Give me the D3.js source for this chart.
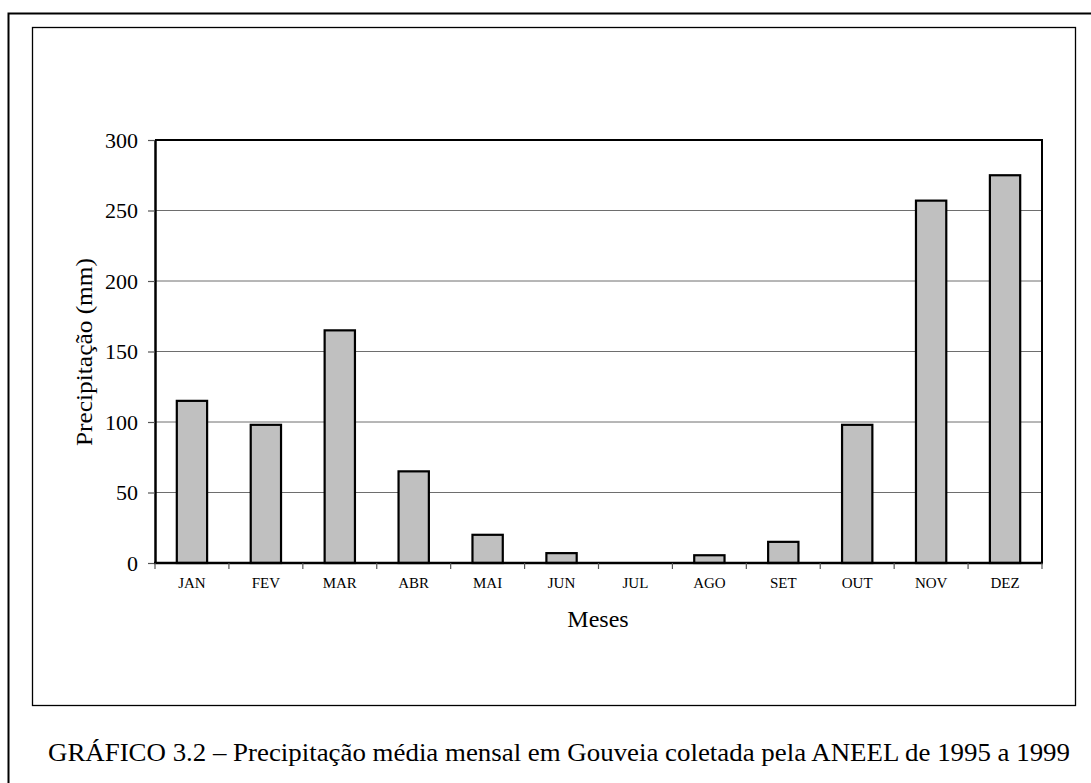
<!DOCTYPE html>
<html><head><meta charset="utf-8">
<script src="https://cdn.jsdelivr.net/npm/d3@7"></script>
<style>
html,body{margin:0;padding:0;background:#fff;}
svg{display:block;}
text{font-family:"Liberation Serif","DejaVu Serif",serif;fill:#000;}
</style></head>
<body>
<svg id="chart" width="1091" height="783"></svg>
<script>
const months = ["JAN","FEV","MAR","ABR","MAI","JUN","JUL","AGO","SET","OUT","NOV","DEZ"];
const precip = [115, 98, 165, 65, 20, 7, 0, 5.5, 15, 98, 257, 275];
const yTicks = [0, 50, 100, 150, 200, 250, 300];
const yTitle = "Precipitação (mm)";
const xTitle = "Meses";
const caption = "GRÁFICO 3.2 – Precipitação média mensal em Gouveia coletada pela ANEEL de 1995 a 1999";

const svg = d3.select("#chart");
const W = 1091, H = 783;
svg.append("rect").attr("width", W).attr("height", H).attr("fill", "#fff");

// outer frame (cut off at right/bottom)
svg.append("path").attr("d", "M8.5,790 L8.5,13.5 L1100,13.5")
  .attr("fill", "none").attr("stroke", "#000").attr("stroke-width", 2);
// inner chart box
svg.append("rect").attr("x", 32.5).attr("y", 27.5).attr("width", 1043).attr("height", 678)
  .attr("fill", "none").attr("stroke", "#000").attr("stroke-width", 1.3);

const m = {left: 155, right: 1042, top: 140, bottom: 563};
const x = d3.scaleBand().domain(months).range([m.left, m.right]).paddingInner(0.59).paddingOuter(0.295);
const xb = d3.scaleBand().domain(months).range([m.left, m.right]);
const y = d3.scaleLinear().domain([0, 300]).range([m.bottom, m.top]);

// gridlines
svg.append("g").selectAll("line").data(yTicks.filter(d => d > 0 && d < 300)).join("line")
  .attr("x1", m.left).attr("x2", m.right)
  .attr("y1", d => y(d)).attr("y2", d => y(d))
  .attr("stroke", "#6e6e6e").attr("stroke-width", 1);

// bars
svg.append("g").selectAll("rect").data(months.map((k, i) => ({k, v: precip[i]}))).join("rect")
  .attr("x", d => x(d.k)).attr("width", x.bandwidth())
  .attr("y", d => y(d.v)).attr("height", d => y(0) - y(d.v))
  .attr("fill", "#c0c0c0").attr("stroke", d => d.v > 0 ? "#000" : "none").attr("stroke-width", 2.2);

// plot frame top/right
svg.append("path").attr("d", `M${m.left},${m.top} H${m.right} V${m.bottom}`)
  .attr("fill", "none").attr("stroke", "#000").attr("stroke-width", 2);

// y axis
const yAxis = d3.axisLeft(y).tickValues(yTicks).tickSize(7).tickSizeOuter(0).tickPadding(10);
const gy = svg.append("g").attr("transform", `translate(${m.left},0)`).call(yAxis);
gy.select(".domain").attr("stroke", "#000").attr("stroke-width", 2.5);
gy.selectAll(".tick line").attr("stroke", "#555").attr("stroke-width", 1.2);
gy.selectAll(".tick text").style("font-size", "22px").style("font-family", '"Liberation Serif",serif').attr("fill", "#000");

// x axis with ticks at category boundaries
const gx = svg.append("g").attr("transform", `translate(0,${m.bottom})`);
gx.append("line").attr("x1", m.left - 1).attr("x2", m.right + 1).attr("stroke", "#000").attr("stroke-width", 2.5);
const bounds = months.map(k => xb(k)).concat([m.right]);
gx.selectAll("line.tk").data(bounds).join("line").attr("class", "tk")
  .attr("x1", d => d).attr("x2", d => d).attr("y1", 0).attr("y2", 6)
  .attr("stroke", "#555").attr("stroke-width", 1.2);
gx.selectAll("text").data(months).join("text")
  .attr("x", d => xb(d) + xb.bandwidth() / 2).attr("y", 25)
  .attr("text-anchor", "middle").style("font-size", "15px").text(d => d);

// titles
svg.append("text").attr("x", 598).attr("y", 627).attr("text-anchor", "middle")
  .style("font-size", "24px").text(xTitle);
svg.append("text").attr("transform", `translate(92,352) rotate(-90)`).attr("text-anchor", "middle")
  .style("font-size", "23px").attr("textLength", 188).attr("lengthAdjust", "spacingAndGlyphs").text(yTitle);

// caption
svg.append("text").attr("x", 559).attr("y", 761).attr("text-anchor", "middle")
  .style("font-size", "25px").attr("textLength", 1022).attr("lengthAdjust", "spacingAndGlyphs").text(caption);
</script>
</body></html>
